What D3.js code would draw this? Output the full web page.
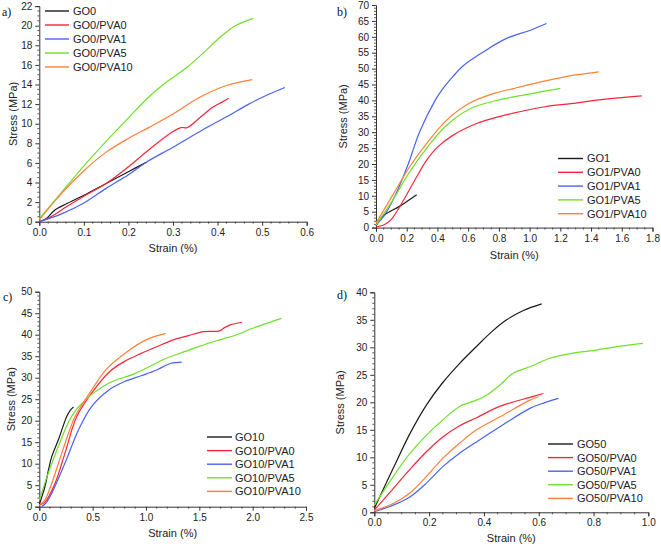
<!DOCTYPE html>
<html><head><meta charset="utf-8">
<script src="https://cdn.jsdelivr.net/npm/d3@7"></script>
<style>body{margin:0;background:#fff}svg{display:block}</style>
</head><body>
<svg id="c" width="661" height="548"></svg>
<script>
// ---------- data ----------
const seriesColors = ["#1a1a1a", "#f5263a", "#4a63ef", "#6fe02a", "#ff8038"];

// panel a
const aNames = ["GO0", "GO0/PVA0", "GO0/PVA1", "GO0/PVA5", "GO0/PVA10"];
const aXTicks = [0, 0.1, 0.2, 0.3, 0.4, 0.5, 0.6];
const aYTicks = [0, 2, 4, 6, 8, 10, 12, 14, 16, 18, 20, 22];
const a_GO0 = [[0,0],[0.015,0.3],[0.035,1.2],[0.06,1.8],[0.1,2.7],[0.15,3.9],[0.2,5.1],[0.241,6.1]];
const a_PVA0 = [[0,0],[0.03,0.6],[0.06,1.5],[0.1,2.6],[0.15,3.9],[0.2,5.6],[0.25,7.5],[0.3,9.2],[0.318,9.6],[0.332,9.6],[0.36,10.6],[0.39,11.7],[0.41,12.2],[0.425,12.6]];
const a_PVA1 = [[0,0],[0.05,0.8],[0.1,1.9],[0.15,3.4],[0.2,4.8],[0.241,6.1],[0.3,7.6],[0.368,9.4],[0.42,10.7],[0.47,12.0],[0.51,12.9],[0.551,13.7]];
const a_PVA5 = [[0,0.3],[0.05,3.0],[0.1,5.7],[0.15,8.2],[0.2,10.6],[0.25,12.9],[0.29,14.4],[0.33,15.7],[0.37,17.3],[0.405,18.8],[0.44,20.0],[0.48,20.75]];
const a_PVA10 = [[0,0.2],[0.05,2.9],[0.1,5.2],[0.15,7.1],[0.2,8.5],[0.245,9.6],[0.3,11.0],[0.36,12.7],[0.42,13.9],[0.478,14.5]];

// panel b
const bNames = ["GO1", "GO1/PVA0", "GO1/PVA1", "GO1/PVA5", "GO1/PVA10"];
const bXTicks = [0, 0.2, 0.4, 0.6, 0.8, 1.0, 1.2, 1.4, 1.6, 1.8];
const bYTicks = [0, 5, 10, 15, 20, 25, 30, 35, 40, 45, 50, 55, 60, 65, 70];
const b_GO1 = [[0,0.5],[0.03,2.8],[0.07,4.5],[0.15,6.6],[0.21,8.5],[0.265,10.3]];
const b_PVA0 = [[0,0.2],[0.05,0.8],[0.1,2.6],[0.18,8.7],[0.265,16],[0.33,21.2],[0.4,25.3],[0.5,29.0],[0.66,32.8],[0.81,35],[0.95,36.6],[1.1,38],[1.27,39],[1.48,40.3],[1.73,41.4]];
const b_PVA1 = [[0,0.8],[0.05,3.5],[0.124,10],[0.21,20],[0.283,30],[0.385,40],[0.44,44],[0.5,47.5],[0.57,51],[0.69,55],[0.85,59.5],[1.0,62],[1.11,64.2]];
const b_PVA5 = [[0,0.8],[0.11,8.7],[0.22,17.6],[0.33,25],[0.46,32.2],[0.61,37.3],[0.77,39.8],[0.94,41.5],[1.2,43.8]];
const b_PVA10 = [[0,1.4],[0.11,10.3],[0.22,19.2],[0.33,26.5],[0.46,33.8],[0.61,39.2],[0.77,42.2],[0.9,43.8],[1.11,46.2],[1.3,48],[1.45,49]];

// panel c
const cNames = ["GO10", "GO10/PVA0", "GO10/PVA1", "GO10/PVA5", "GO10/PVA10"];
const cXTicks = [0, 0.5, 1.0, 1.5, 2.0, 2.5];
const cYTicks = [0, 5, 10, 15, 20, 25, 30, 35, 40, 45, 50];
const c_GO10 = [[0,0.5],[0.02,2],[0.053,4.7],[0.09,9],[0.116,11.6],[0.178,15.5],[0.22,18.5],[0.256,20.9],[0.29,22.4],[0.32,23.2]];
const c_PVA0 = [[0,0.4],[0.05,1],[0.147,5.4],[0.24,12.4],[0.35,20.9],[0.49,26.4],[0.663,31.5],[0.8,33.8],[0.95,35.6],[1.1,37.2],[1.256,38.8],[1.4,39.8],[1.54,40.7],[1.69,40.9],[1.74,41.7],[1.79,42.3],[1.9,42.9]];
const c_PVA1 = [[0.02,0],[0.06,0.8],[0.116,3.1],[0.24,10.1],[0.366,17.8],[0.49,23.3],[0.65,27.1],[0.8,29.1],[0.96,30.5],[1.1,31.8],[1.23,33.3],[1.335,33.6]];
const c_PVA5 = [[0,1.5],[0.084,7.8],[0.178,14],[0.3,20.9],[0.43,24.8],[0.65,28.7],[0.9,31],[1.18,34.4],[1.32,35.7],[1.5,37.3],[1.69,38.8],[1.85,40],[2.0,41.5],[2.27,43.8]];
const c_PVA10 = [[0,0.4],[0.05,1.5],[0.116,5.4],[0.21,12.4],[0.334,20.9],[0.49,27.1],[0.63,32],[0.82,36],[1.0,38.8],[1.185,40.3]];

// panel d
const dNames = ["GO50", "GO50/PVA0", "GO50/PVA1", "GO50/PVA5", "GO50/PVA10"];
const dXTicks = [0, 0.2, 0.4, 0.6, 0.8, 1.0];
const dYTicks = [0, 5, 10, 15, 20, 25, 30, 35, 40];
const d_GO50 = [[0,0.7],[0.069,8.0],[0.13,14.3],[0.19,19.5],[0.25,23.6],[0.31,27.0],[0.374,30.2],[0.43,32.9],[0.483,35],[0.544,36.7],[0.611,37.9]];
const d_PVA0 = [[0,0.4],[0.069,4.3],[0.13,7.8],[0.19,11],[0.25,13.7],[0.31,15.7],[0.373,17.2],[0.46,19.3],[0.568,20.9],[0.617,21.6]];
const d_PVA1 = [[0,0.1],[0.069,1.3],[0.13,2.8],[0.19,5.3],[0.25,8.3],[0.31,10.7],[0.373,12.8],[0.46,15.6],[0.568,18.9],[0.62,19.9],[0.672,20.7]];
const d_PVA5 = [[0,1.3],[0.069,6.5],[0.13,10.7],[0.19,14],[0.25,16.8],[0.31,19.2],[0.373,20.4],[0.41,21.3],[0.46,23.2],[0.507,25.3],[0.57,26.5],[0.641,28],[0.72,28.9],[0.81,29.5],[0.9,30.2],[0.98,30.7]];
const d_PVA10 = [[0,0.3],[0.069,1.6],[0.13,3.5],[0.19,6.5],[0.25,9.8],[0.31,12.5],[0.373,15],[0.46,17.4],[0.568,20.4],[0.6,21]];

// ---------- layout ----------
const panels = [
  {tag:"a)", names:aNames, series:[a_GO0,a_PVA0,a_PVA1,a_PVA5,a_PVA10], xd:[0,0.6], yd:[0,22], xt:aXTicks, yt:aYTicks, xf:".1f", xr:[39.3,306.7], yr:[221.7,6.1], xMinor:5, yMinor:4,
   tagPos:[2,16], yTitleX:13, xTitleY:252, legend:{x1:45, x2:69, tx:73, y0:11, dy:14}},
  {tag:"b)", names:bNames, series:[b_GO1,b_PVA0,b_PVA1,b_PVA5,b_PVA10], xd:[0,1.8], yd:[0,70], xt:bXTicks, yt:bYTicks, xf:".1f", xr:[376,652.5], yr:[227.6,5], xMinor:4, yMinor:5,
   tagPos:[337,16], yTitleX:343, xTitleY:259, legend:{x1:558, x2:583, tx:587, y0:158.5, dy:13.8}},
  {tag:"c)", names:cNames, series:[c_GO10,c_PVA0,c_PVA1,c_PVA5,c_PVA10], xd:[0,2.5], yd:[0,50], xt:cXTicks, yt:cYTicks, xf:".1f", xr:[39.3,306], yr:[506.7,291.7], xMinor:5, yMinor:5,
   tagPos:[3,301], yTitleX:11, xTitleY:537, legend:{x1:207, x2:232, tx:235, y0:437, dy:13.6}},
  {tag:"d)", names:dNames, series:[d_GO50,d_PVA0,d_PVA1,d_PVA5,d_PVA10], xd:[0,1.0], yd:[0,40], xt:dXTicks, yt:dYTicks, xf:".1f", xr:[374.3,648.3], yr:[512.3,292.3], xMinor:4, yMinor:5,
   tagPos:[337,299], yTitleX:340, xTitleY:542, legend:{x1:548, x2:573, tx:577, y0:444, dy:13.6}}
];

const svg = d3.select("#c");
const FONT = "'Liberation Sans', Arial, sans-serif";
const AX = "#333";

panels.forEach(p => {
  const x = d3.scaleLinear().domain(p.xd).range(p.xr);
  const y = d3.scaleLinear().domain(p.yd).range(p.yr);
  const g = svg.append("g");

  // minor ticks
  const xs = d3.range(0, p.xt.length - 1).flatMap(i => d3.range(1, p.xMinor).map(k => p.xt[i] + (p.xt[i+1]-p.xt[i]) * k / p.xMinor));
  const ys = d3.range(0, p.yt.length - 1).flatMap(i => d3.range(1, p.yMinor).map(k => p.yt[i] + (p.yt[i+1]-p.yt[i]) * k / p.yMinor));
  g.selectAll(".xm").data(xs).join("line")
    .attr("x1", d => x(d)).attr("x2", d => x(d)).attr("y1", y(p.yd[0])).attr("y2", y(p.yd[0]) + 2)
    .attr("stroke", AX).attr("stroke-width", 0.8);
  g.selectAll(".ym").data(ys).join("line")
    .attr("y1", d => y(d)).attr("y2", d => y(d)).attr("x1", x(p.xd[0])).attr("x2", x(p.xd[0]) - 2)
    .attr("stroke", AX).attr("stroke-width", 0.8);

  // axes
  const xa = g.append("g").attr("transform", `translate(0,${y(p.yd[0])})`)
    .call(d3.axisBottom(x).tickValues(p.xt).tickFormat(d3.format(p.xf)).tickSize(4).tickPadding(3));
  const ya = g.append("g").attr("transform", `translate(${x(p.xd[0])},0)`)
    .call(d3.axisLeft(y).tickValues(p.yt).tickFormat(d3.format("d")).tickSize(4).tickPadding(3));
  [xa, ya].forEach(a => {
    a.select(".domain").attr("stroke", AX).attr("stroke-width", 1);
    a.selectAll(".tick line").attr("stroke", AX).attr("stroke-width", 1);
    a.selectAll(".tick text").attr("font-family", FONT).attr("font-size", 10).attr("fill", "#222");
  });

  // lines
  const line = d3.line().x(d => x(d[0])).y(d => y(d[1])).curve(d3.curveCatmullRom.alpha(0.5));
  p.series.forEach((s, i) => {
    g.append("path").datum(s).attr("d", line).attr("fill", "none")
      .attr("stroke", seriesColors[i]).attr("stroke-width", 1.2);
  });

  // titles
  g.append("text").attr("x", (p.xr[0] + p.xr[1]) / 2).attr("y", p.xTitleY)
    .attr("text-anchor", "middle").attr("font-family", FONT).attr("font-size", 11).attr("fill", "#222")
    .text("Strain (%)");
  const ymid = (p.yr[0] + p.yr[1]) / 2;
  g.append("text").attr("transform", `translate(${p.yTitleX},${ymid}) rotate(-90)`)
    .attr("text-anchor", "middle").attr("dy", "0.35em").attr("font-family", FONT).attr("font-size", 11).attr("fill", "#222")
    .text("Stress (MPa)");
  g.append("text").attr("x", p.tagPos[0]).attr("y", p.tagPos[1])
    .attr("font-family", "'Liberation Serif', 'Times New Roman', serif").attr("font-size", 12).attr("fill", "#111")
    .text(p.tag);

  // legend
  const L = p.legend;
  p.names.forEach((n, i) => {
    const yy = L.y0 + i * L.dy;
    g.append("line").attr("x1", L.x1).attr("x2", L.x2).attr("y1", yy).attr("y2", yy)
      .attr("stroke", seriesColors[i]).attr("stroke-width", 1.4);
    g.append("text").attr("x", L.tx).attr("y", yy).attr("dy", "0.36em")
      .attr("font-family", FONT).attr("font-size", 11).attr("fill", "#222").text(n);
  });
});
</script>
</body></html>
